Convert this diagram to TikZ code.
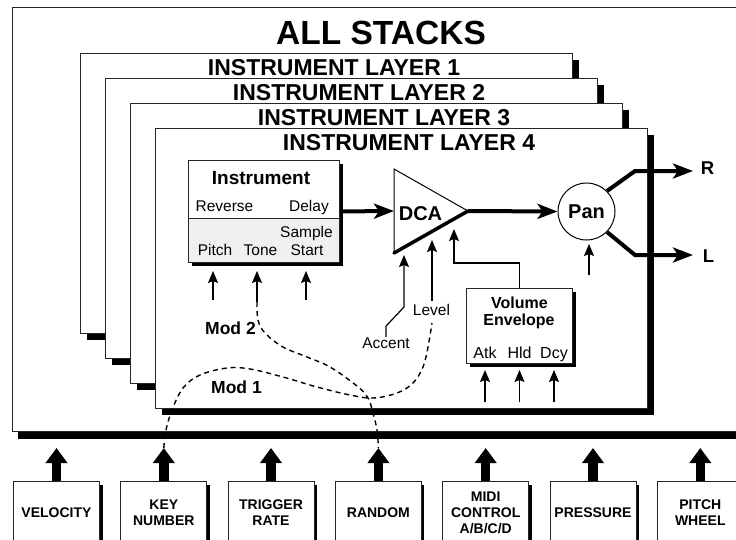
\documentclass[tikz,border=0pt]{standalone}
\usepackage{fontspec}
\setmainfont{Liberation Sans}
\usetikzlibrary{arrows.meta}
\newcommand\setfs[1]{\fontsize{#1}{#1}\selectfont}
\begin{document}
\begin{tikzpicture}[x=1pt,y=-1pt,
  framebox/.style={draw=black!85, line width=0.9pt, fill=white},
  shadowfill/.style={fill=black},
  txt/.style={inner sep=0pt, anchor=base},
  bigtitle/.style={txt, font=\setfs{33.5}\bfseries},
  layertitle/.style={txt, font=\setfs{23}\bfseries},
  boldlbl/.style={txt, font=\setfs{#1}\bfseries},
  plainlbl/.style={txt, font=\setfs{15.5}},
  sig/.style={line width=4pt, -{Stealth[length=20pt,width=15pt,inset=5pt]}},
  thinarrow/.style={line width=1.2pt, -{Stealth[length=12pt,width=10pt,inset=2pt]}},
  bigarrow/.style={line width=9.5pt, -{Triangle[length=15pt,width=21pt]}},
  modline/.style={line width=1.4pt, dash pattern=on 5pt off 4pt},
  srcbox/.style={draw=black!85, line width=0.9pt, fill=white, minimum width=86pt,
    minimum height=62pt, anchor=north, inner sep=0pt, align=center,
    font=\fontsize{14}{16}\selectfont\bfseries},
]
\useasboundingbox (0,0) rectangle (736,539);
\clip (0,0) rectangle (736,539);

% outer frame with its shadow bar
\fill[shadowfill] (18,432) rectangle (745,439);
\draw[framebox] (12,7) rectangle (745,431);
\node[bigtitle] (title) at (381,44) {ALL STACKS};

% the four stacked layers
\foreach \i in {0,1,2,3} {
  \fill[shadowfill] ({87+25*\i},{333+25*\i}) rectangle ({579+25*\i},{340+25*\i});
  \fill[shadowfill] ({572+25*\i},{60+25*\i}) rectangle ({579+25*\i},{340+25*\i});
  \draw[framebox] ({80+25*\i},{53+25*\i}) rectangle ({572+25*\i},{333+25*\i});
}
\node[layertitle] (lt1) at (334,75) {INSTRUMENT LAYER 1};
\node[layertitle] (lt2) at (359,100) {INSTRUMENT LAYER 2};
\node[layertitle] (lt3) at (384,125) {INSTRUMENT LAYER 3};
\node[layertitle] (lt4) at (409,150) {INSTRUMENT LAYER 4};

% instrument block
\fill[shadowfill] (192,164) rectangle (343,266);
\node[draw=black!85, line width=0.9pt, fill=white, minimum width=151pt, minimum height=102pt,
  inner sep=0pt, anchor=north west] (inst) at (188,160) {};
\fill[black!6] (188.5,218) rectangle (338.5,261.5);
\draw[black!85, line width=0.9pt] (188,218) -- (339,218);
\node[boldlbl=19] (insttitle) at (261,184) {Instrument};
\node[plainlbl] (rev) at (224.5,211) {Reverse};
\node[plainlbl] (dly) at (309,211) {Delay};
\node[plainlbl] (smp) at (306.5,237) {Sample};
\node[plainlbl] (pit) at (215,255) {Pitch};
\node[plainlbl] (ton) at (260.5,255) {Tone};
\node[plainlbl] (sta) at (307,255) {Start};

% DCA
\coordinate (dcaIn) at (394,211);
\coordinate (dcaTip) at (468,211);
\draw[line width=1pt] (394,253) -- (394,169) -- (dcaTip);
\draw[line width=3.5pt, line cap=round] (394,253) -- (dcaTip);
\node[boldlbl=20] (dcalbl) at (420.5,220) {DCA};

% Pan
\node[circle, draw, line width=1pt, minimum size=57pt, inner sep=0pt,
  font=\setfs{20}\bfseries] (pan) at (586.5,211.5) {Pan};

% signal path
\draw[sig] (inst.east) -- (dcaIn);
\draw[sig] (dcaTip) -- (pan.west);
\coordinate (rKnee) at (635,171);
\coordinate (rEnd) at (693,171);
\coordinate (lKnee) at (635,255);
\coordinate (lEnd) at (693,255);
\draw[sig] (pan.45) -- (rKnee) -- (rEnd);
\draw[sig] (pan.-45) -- (lKnee) -- (lEnd);
\node[boldlbl=18.5] (rlbl) at (707.5,174) {R};
\node[boldlbl=18.5] (llbl) at (708.5,262.5) {L};

% volume envelope
\fill[shadowfill] (470,292) rectangle (576,367);
\node[draw=black!85, line width=0.9pt, fill=white, minimum width=106pt, minimum height=75pt,
  inner sep=0pt, anchor=north west] (env) at (466,288) {};
\node[boldlbl=16] (vol) at (519.5,308) {Volume};
\node[boldlbl=16] (envl) at (519,325) {Envelope};
\node[txt, font=\setfs{16}] (atk) at (485,358) {Atk};
\node[txt, font=\setfs{16}] (hld) at (519.5,358) {Hld};
\node[txt, font=\setfs{16}] (dcy) at (554,358) {Dcy};
\coordinate (dcaEnv) at (454,229);
\draw[thinarrow] (env.north) -- ++(0,-25) -| (dcaEnv);

% accent and level inputs
\node[plainlbl] (accent) at (386,348) {Accent};
\node[plainlbl] (level) at (431.5,315) {Level};
\coordinate (accTip) at (404,255);
\coordinate (lvlTip) at (432,240);
\draw[thinarrow] (accent.north) -- ++(0,-11) -- (404,307) -- (accTip);
\draw[thinarrow] (level.north) ++(0.5,-3) -- (lvlTip);

% control inputs
\coordinate (pitIn) at (213,300);
\coordinate (tonIn) at (257,302);
\coordinate (staIn) at (306,300);
\draw[thinarrow] (pitIn) -- (213,271);
\draw[thinarrow] (tonIn) -- (257,271);
\draw[thinarrow] (staIn) -- (306,271);
\coordinate (panIn) at (589,275);
\draw[thinarrow] (panIn) -- (589,244);
\foreach \x/\n in {485/a,519.5/h,554/d} {
  \coordinate (env\n In) at (\x,402);
  \draw[thinarrow] (env\n In) -- (\x,370);
}

% modulation sources
\foreach \n/\x/\t in {1/56.5/{VELOCITY}, 2/163.8/{KEY\\NUMBER}, 3/271/{TRIGGER\\RATE},
    4/378.4/{RANDOM}, 5/485.7/{MIDI\\CONTROL\\A/B/C/D}, 6/593/{PRESSURE}, 7/700.3/{PITCH\\WHEEL}} {
  \fill[shadowfill] (\x+43,485) rectangle (\x+46,545);
  \node[srcbox] (src\n) at (\x,481) {\t};
  \coordinate (bus\n) at (\x,448);
  \draw[bigarrow] (src\n.north) -- (bus\n);
}

% modulation routings
\coordinate (levelDash) at (432,323);
\draw[modline] plot[smooth, tension=0.6] coordinates {(bus2) (166,430) (172,410) (183,388)
  (200,375) (227,368) (250,369) (283,377) (317,387) (350,395) (373,398) (397,393)
  (413,383) (423,367) (428,347) (levelDash)};
\draw[modline] plot[smooth, tension=0.6] coordinates {(tonIn) (258,320) (265,333) (283,347)
  (307,357) (330,367) (357,386) (368,398) (373,413) (377,430) (bus4)};
\node[boldlbl=17.5] (mod2) at (230.5,334) {Mod 2};
\node[boldlbl=17.5] (mod1) at (236.5,393) {Mod 1};
\end{tikzpicture}
\end{document}
